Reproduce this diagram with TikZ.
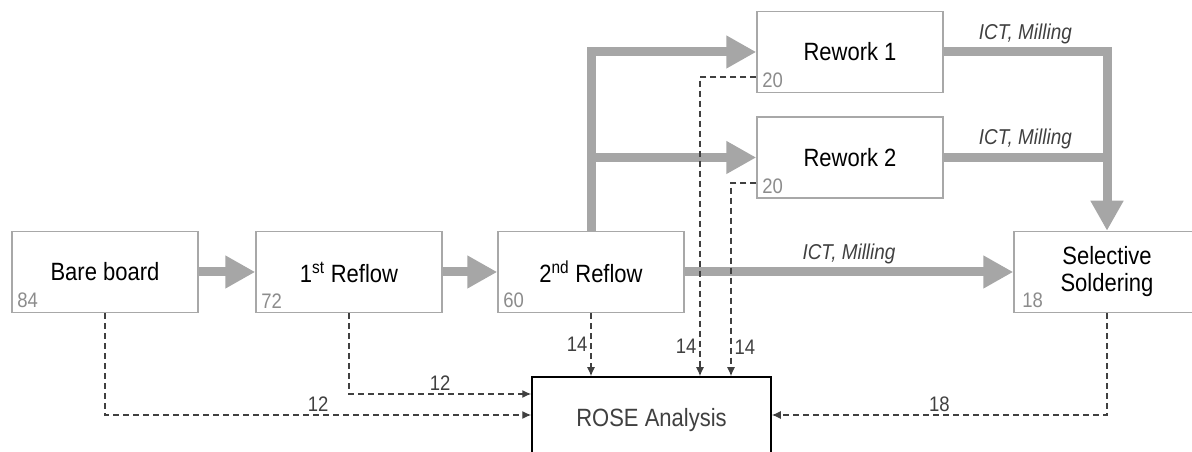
\documentclass[tikz,border=0pt]{standalone}
\usepackage{fontspec}
\setmainfont{Liberation Sans}[FakeStretch=0.88]
\usepackage{tikz}
\usetikzlibrary{arrows.meta,positioning}
\definecolor{FlowGray}{HTML}{A6A6A6}
\definecolor{BoxLine}{HTML}{A8A8A8}
\definecolor{SampleLine}{HTML}{404040}
\definecolor{CountGray}{HTML}{8C8C8C}
\tikzset{
  procbox/.style={draw=BoxLine,line width=1.5pt,fill=white,align=center,inner sep=0pt,
    minimum width=186pt,minimum height=81pt,font=\fontsize{25}{27}\selectfont},
  rosebox/.style={draw=black,line width=1.5pt,fill=white,inner sep=0pt,
    minimum width=239pt,minimum height=86pt,text=SampleLine,font=\fontsize{25}{27}\selectfont},
  flowarrow/.style={-{Triangle[length=30pt,width=31pt]},line width=9pt,draw=FlowGray},
  flowline/.style={line width=9pt,draw=FlowGray},
  samplearrow/.style={-{Latex[length=9pt,width=8pt]},line width=1.3pt,draw=SampleLine,
    dash pattern=on 6pt off 4pt},
  countlbl/.style={font=\fontsize{21}{23}\selectfont,text=CountGray,inner sep=0pt},
  qtylbl/.style={font=\fontsize{21}{23}\selectfont,text=SampleLine,inner sep=3pt},
  oplbl/.style={font=\fontsize{21.5}{23}\selectfont\itshape,text=SampleLine,inner sep=4pt}
}
\begin{document}
\begin{tikzpicture}[x=1pt,y=1pt]
  \useasboundingbox (0,0) rectangle (1192,452);

  % process boxes
  \node[procbox] (bare) at (105,180) {Bare board};
  \node[procbox] (first) at (349,180) {1\textsuperscript{st} Reflow};
  \node[procbox] (second) at (591,180) {2\textsuperscript{nd} Reflow};
  \node[procbox] (rwone) at (850,400) {Rework 1};
  \node[procbox] (rwtwo) at (850,294.5) {Rework 2};
  \node[procbox] (selsold) at (1107,180) {Selective\\Soldering};
  \node[rosebox] (rose) at (651.5,32) {ROSE Analysis};

  % board counts
  \node[countlbl,anchor=south west] (nbare) at ([shift={(6pt,5pt)}]bare.south west) {84};
  \node[countlbl,anchor=south west] (nfirst) at ([shift={(6pt,5pt)}]first.south west) {72};
  \node[countlbl,anchor=south west] (nsecond) at ([shift={(6pt,5pt)}]second.south west) {60};
  \node[countlbl,anchor=south west] (nrwone) at ([shift={(6pt,5pt)}]rwone.south west) {20};
  \node[countlbl,anchor=south west] (nrwtwo) at ([shift={(6pt,5pt)}]rwtwo.south west) {20};
  \node[countlbl,anchor=south west] (nsel) at ([shift={(9pt,5pt)}]selsold.south west) {18};

  % main flow
  \draw[flowarrow] (bare) -- (first);
  \draw[flowarrow] (first) -- (second);
  \draw[flowarrow] (second.north) |- (rwone.west);
  \draw[flowarrow] (second.north |- rwtwo.west) -- (rwtwo.west);
  \draw[flowarrow] (second) -- node[oplbl,above] {ICT, Milling} (selsold);
  \draw[flowarrow] (rwone.east) -- node[oplbl,above,pos=0.5] {ICT, Milling} (rwone.east -| selsold.north) -- (selsold.north);
  \draw[flowline] (rwtwo.east) -- node[oplbl,above] {ICT, Milling} (rwtwo.east -| selsold.north);

  % samples to ROSE
  \draw[samplearrow] (bare.south) |- node[qtylbl,above,pos=0.75] {12} ([yshift=5pt]rose.west);
  \draw[samplearrow] (first.south) |- node[qtylbl,above,pos=0.75] {12} ([yshift=26pt]rose.west);
  \draw[samplearrow] (second.south) -- node[qtylbl,left,pos=0.5] {14} (second.south |- rose.north);
  \draw[samplearrow] ([yshift=-25pt]rwone.west) -| node[qtylbl,left,pos=0.95] {14} ([xshift=48.5pt]rose.north);
  \draw[samplearrow] ([yshift=-25.5pt]rwtwo.west) -| node[qtylbl,right,pos=0.925] {14} ([xshift=79.5pt]rose.north);
  \draw[samplearrow] (selsold.south) |- node[qtylbl,above,pos=0.75] {18} ([yshift=5pt]rose.east);
\end{tikzpicture}
\end{document}
